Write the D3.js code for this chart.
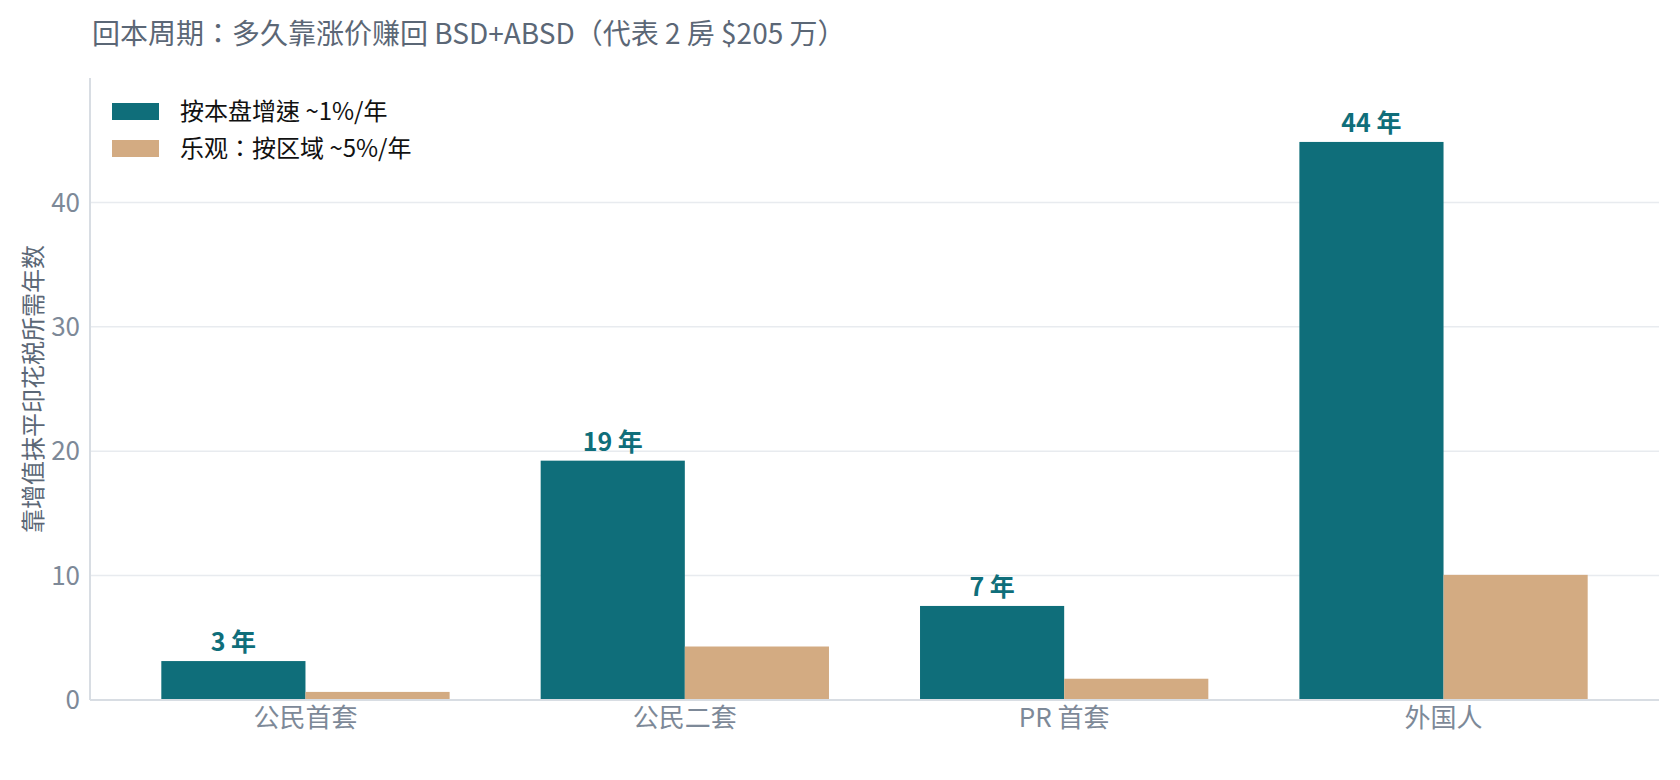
<!DOCTYPE html>
<html>
<head>
<meta charset="utf-8">
<script src="https://cdn.jsdelivr.net/npm/d3@7"></script>
<style>
  html, body { margin: 0; padding: 0; background: #fff; }
  svg { display: block; font-family: "Noto Sans CJK SC", "Noto Sans", sans-serif; }
  .tc { font-family: "Noto Sans CJK TC", "Noto Sans CJK SC", sans-serif; }
</style>
</head>
<body>
<div id="chart"></div>
<script>
// data
var categories = ["公民首套", "公民二套", "PR 首套", "外国人"];
var baseYears = [3.13, 19.24, 7.56, 44.86];     // 按本盘增速 ~1%/年
var optimisticYears = [0.65, 4.3, 1.71, 10.06]; // 乐观：按区域 ~5%/年
var seriesNames = ["按本盘增速 ~1%/年", "乐观：按区域 ~5%/年"];
var yTicks = [0, 10, 20, 30, 40];

var width = 1680, height = 780;
var teal = "#0f6e7a", tan = "#d3ab82";
var barW = 0.38;

var svg = d3.select("#chart").append("svg")
    .attr("width", width)
    .attr("height", height);

// x is a linear scale over group index, padded like the original
var x = d3.scaleLinear()
    .domain([-barW - 0.188, categories.length - 1 + barW + 0.188])
    .range([90, 1659]);

var y = d3.scaleLinear()
    .domain([0, 50])
    .range([700, 78]);

// gridlines
svg.append("g")
    .selectAll("line")
    .data(yTicks.filter(function (d) { return d > 0; }))
    .enter()
    .append("line")
    .attr("x1", x.range()[0])
    .attr("x2", x.range()[1])
    .attr("y1", function (d) { return y(d); })
    .attr("y2", function (d) { return y(d); })
    .attr("stroke", "#e8ebef")
    .attr("stroke-width", 1.5);

// bars
var series = [
    { values: baseYears, color: teal, offset: -barW },
    { values: optimisticYears, color: tan, offset: 0 }
];

series.forEach(function (s) {
    svg.append("g")
        .selectAll("rect")
        .data(s.values)
        .enter()
        .append("rect")
        .attr("x", function (d, i) { return x(i + s.offset); })
        .attr("width", function (d, i) { return x(i + s.offset + barW) - x(i + s.offset); })
        .attr("y", function (d) { return y(d); })
        .attr("height", function (d) { return y(0) - y(d); })
        .attr("fill", s.color);
});

// value labels above the base bars
svg.append("g")
    .selectAll("text")
    .data(baseYears)
    .enter()
    .append("text")
    .attr("x", function (d, i) { return x(i - barW / 2); })
    .attr("y", function (d) { return y(d) - 10; })
    .attr("text-anchor", "middle")
    .attr("font-size", 25)
    .attr("font-weight", "bold")
    .attr("fill", teal)
    .text(function (d) { return Math.floor(d) + " 年"; });

// spines
svg.append("line")
    .attr("x1", x.range()[0]).attr("x2", x.range()[0])
    .attr("y1", y.range()[1]).attr("y2", y(0))
    .attr("stroke", "#d8dde3").attr("stroke-width", 2);
svg.append("line")
    .attr("x1", x.range()[0]).attr("x2", x.range()[1])
    .attr("y1", y(0)).attr("y2", y(0))
    .attr("stroke", "#d8dde3").attr("stroke-width", 2);

// y tick labels
svg.append("g")
    .selectAll("text")
    .data(yTicks)
    .enter()
    .append("text")
    .attr("x", 80)
    .attr("y", function (d) { return y(d); })
    .attr("dy", "0.35em")
    .attr("text-anchor", "end")
    .attr("font-size", 26)
    .attr("fill", "#7d8998")
    .text(function (d) { return d; });

// x category labels
svg.append("g")
    .selectAll("text")
    .data(categories)
    .enter()
    .append("text")
    .attr("x", function (d, i) { return x(i); })
    .attr("y", 727)
    .attr("text-anchor", "middle")
    .attr("font-size", 26)
    .attr("fill", "#7d8998")
    .text(function (d) { return d; });

// y axis title
svg.append("text")
    .attr("transform", "translate(42," + ((y.range()[1] + y(0)) / 2) + ") rotate(-90)")
    .attr("text-anchor", "middle")
    .attr("font-size", 24)
    .attr("fill", "#5b6776")
    .text("靠增值抹平印花税所需年数");

// chart title
svg.append("text")
    .attr("class", "tc")
    .attr("x", 92)
    .attr("y", 44)
    .attr("font-size", 28)
    .attr("fill", "#5b6776")
    .text("回本周期：多久靠涨价赚回 BSD+ABSD（代表 2 房 $205 万）");

// legend
var legend = svg.append("g").attr("transform", "translate(112,103)");
var legendItem = legend.selectAll("g")
    .data(seriesNames)
    .enter()
    .append("g")
    .attr("transform", function (d, i) { return "translate(0," + (i * 37) + ")"; });

legendItem.append("rect")
    .attr("width", 47)
    .attr("height", 17)
    .attr("fill", function (d, i) { return i === 0 ? teal : tan; });

legendItem.append("text")
    .attr("class", "tc")
    .attr("x", 68)
    .attr("y", 8.5)
    .attr("dy", "0.35em")
    .attr("font-size", 24)
    .attr("fill", "#111")
    .text(function (d) { return d; });
</script>
</body>
</html>
